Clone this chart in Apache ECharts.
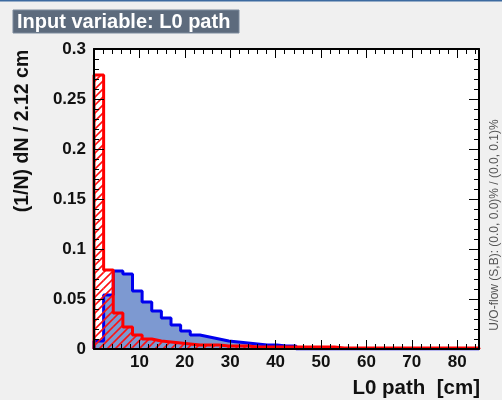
<!DOCTYPE html>
<html><head><meta charset="utf-8">
<script src="https://cdn.jsdelivr.net/npm/echarts@6/dist/echarts.min.js"></script>
<style>html,body{margin:0;padding:0;background:#f0f0f0;}#c{width:502px;height:400px;}</style>
</head><body><div id="c"></div>
<script>
// ---- data ----
const titleText = 'Input variable: L0 path';
const xTitle = 'L0 path  [cm]';
const yTitle = '(1/N) dN / 2.12 cm';
const flowText = 'U/O-flow (S,B): (0.0, 0.0)% / (0.0, 0.1)%';
const binStart = 0;
const binWidth = 2.12;
// signal (blue, filled)
const signal = [0.008, 0.054, 0.078, 0.075, 0.058, 0.047, 0.038, 0.031, 0.024, 0.018,
                0.014, 0.012, 0.010, 0.008, 0.007, 0.006, 0.005, 0.004, 0.004, 0.003,
                0.003, 0, 0, 0, 0, 0, 0, 0, 0, 0,
                0, 0, 0, 0, 0, 0, 0, 0, 0, 0];
// background (red, hatched)
const background = [0.274, 0.079, 0.036, 0.022, 0.014, 0.010, 0.008, 0.007, 0.006, 0.005,
                    0.004, 0.004, 0.004, 0.003, 0.003, 0.003, 0.002, 0.002, 0.002, 0.002,
                    0.002, 0.002, 0.002, 0.002, 0.002, 0.001, 0.001, 0.001, 0.001, 0.001,
                    0.001, 0.001, 0.001, 0.001, 0.001, 0.001, 0.001, 0.001, 0.001, 0.001];
const yMin = 0, yMax = 0.3, yStep = 0.05;
const xMajor = 10, xMinor = 2;

// ---- build ----
const xMax = binStart + signal.length * binWidth;
function stepData(vals) {
  const d = [[binStart, 0]];
  vals.forEach((v, i) => d.push([binStart + i * binWidth, v]));
  const end = binStart + vals.length * binWidth;
  d.push([end, vals[vals.length - 1]]);
  d.push([end, 0]);
  return d;
}
const binData = background.map((v, i) => [binStart + i * binWidth, binStart + (i + 1) * binWidth, v]);
const HATCH = 8;
function renderHatch(params, api) {
  const pTop = api.coord([api.value(0), api.value(2)]);
  const pBot = api.coord([api.value(1), 0]);
  const x0 = pTop[0], x1 = pBot[0], y0 = pTop[1], y1 = pBot[1];
  const children = [];
  const cStart = Math.floor((x0 + y0) / HATCH) * HATCH;
  for (let c = cStart; c <= x1 + y1; c += HATCH) {
    const xa = Math.max(x0, c - y1), xb = Math.min(x1, c - y0);
    if (xb - xa > 0.2) {
      children.push({ type: 'line', shape: { x1: xa, y1: c - xa, x2: xb, y2: c - xb },
        style: { stroke: '#ff1010', lineWidth: 1.7 }, silent: true });
    }
  }
  return { type: 'group', children: children };
}
const FONT = 'Liberation Sans, Arial, Helvetica, sans-serif';
const black = '#000';
function xAx(pos, interval, len, withLine, withLabel) {
  return {
    type: 'value', min: binStart, max: xMax, interval: interval, position: pos, z: 5,
    axisLine: { show: withLine, onZero: false, lineStyle: { color: black, width: 2 } },
    axisTick: { show: true, inside: true, length: len, lineStyle: { color: black, width: 1 } },
    axisLabel: withLabel ? { show: true, showMinLabel: false, showMaxLabel: false, margin: 5,
      fontFamily: FONT, fontWeight: 'bold', fontSize: 17, color: '#111' } : { show: false },
    splitLine: { show: false }
  };
}
function yAx(pos, withLabel) {
  return {
    type: 'value', min: yMin, max: yMax, interval: yStep, position: pos, z: 5,
    axisLine: { show: true, onZero: false, lineStyle: { color: black, width: 2 } },
    axisTick: { show: true, inside: true, length: 10, lineStyle: { color: black, width: 1 } },
    minorTick: { show: true, splitNumber: 5, length: 5, lineStyle: { color: black, width: 1 } },
    axisLabel: withLabel ? { show: true, margin: 8, fontFamily: FONT, fontWeight: 'bold', fontSize: 17, color: '#111',
      formatter: v => String(+v.toFixed(3)) } : { show: false },
    splitLine: { show: false }
  };
}
const chart = echarts.init(document.getElementById('c'), null, { renderer: 'canvas' });
chart.setOption({
  animation: false,
  backgroundColor: '#f0f0f0',
  grid: { left: 94, top: 49, width: 385, height: 300, show: true, backgroundColor: '#fff', borderWidth: 0 },
  xAxis: [
    xAx('bottom', xMajor, 9, true, true),
    xAx('bottom', xMinor, 5, false, false),
    xAx('top', xMajor, 9, true, false),
    xAx('top', xMinor, 5, false, false)
  ],
  yAxis: [yAx('left', true), yAx('right', false)],
  series: [
    { name: 'Signal', type: 'line', step: 'end', symbol: 'none', xAxisIndex: 0, yAxisIndex: 0,
      data: stepData(signal), lineStyle: { color: '#0000ee', width: 3 },
      areaStyle: { color: '#7d99d1', opacity: 1 }, z: 2 },
    { name: 'Background hatch', type: 'custom', xAxisIndex: 0, yAxisIndex: 0,
      data: binData, encode: { x: [0, 1], y: 2 }, renderItem: renderHatch, z: 3, silent: true },
    { name: 'Background', type: 'line', step: 'end', symbol: 'none', xAxisIndex: 0, yAxisIndex: 0,
      data: stepData(background), lineStyle: { color: '#ff0000', width: 3 }, z: 4 }
  ],
  graphic: [
    { type: 'rect', shape: { x: 0, y: 0, width: 502, height: 1.5 }, style: { fill: '#3d6aa0' } },
    { type: 'rect', shape: { x: 13, y: 10, width: 226, height: 23 }, style: { fill: '#5d6b7d', stroke: '#7d8b9d', lineWidth: 1 } },
    { type: 'text', x: 17, y: 22, style: { text: titleText, fill: '#fff', font: 'bold 20px ' + FONT, textAlign: 'left', textVerticalAlign: 'middle' } },
    { type: 'text', x: 23, y: 131, rotation: Math.PI / 2, style: { text: yTitle, fill: '#111', font: 'bold 19.5px ' + FONT, textAlign: 'center', textVerticalAlign: 'middle' } },
    { type: 'text', x: 480, y: 388, style: { text: xTitle, fill: '#111', font: 'bold 20.5px ' + FONT, textAlign: 'right', textVerticalAlign: 'middle' } },
    { type: 'text', x: 495, y: 225, rotation: Math.PI / 2, style: { text: flowText, fill: '#555', font: '12px ' + FONT, textAlign: 'center', textVerticalAlign: 'middle' } }
  ]
});
</script>
</body></html>
